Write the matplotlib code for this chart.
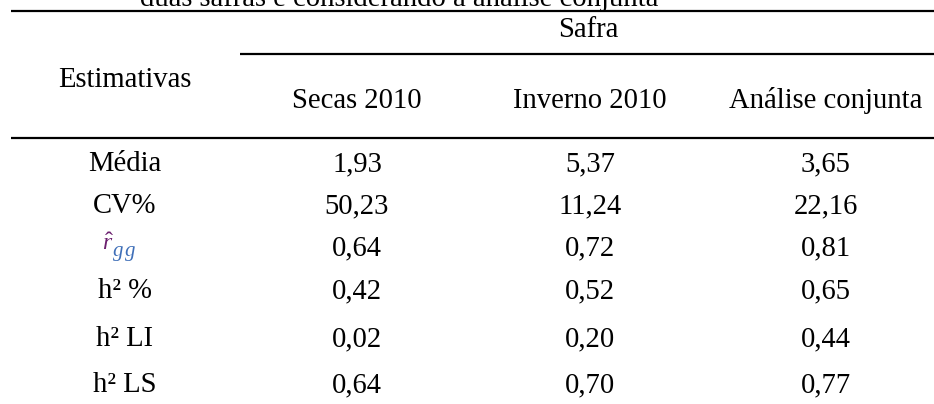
#!/usr/bin/env python3

import matplotlib.pyplot as plt

# Dados da tabela
estimativas = ['Média', 'CV%', 'r_gg', 'h² %', 'h² LI', 'h² LS']
safras = ['Secas 2010', 'Inverno 2010', 'Análise conjunta']
secas_2010 = ['1,93', '50,23', '0,64', '0,42', '0,02', '0,64']
inverno_2010 = ['5,37', '11,24', '0,72', '0,52', '0,20', '0,70']
analise_conjunta = ['3,65', '22,16', '0,81', '0,65', '0,44', '0,77']
titulo = 'duas safras e considerando a análise conjunta'

plt.rcParams['font.family'] = ['Liberation Serif', 'DejaVu Serif']
plt.rcParams['mathtext.fontset'] = 'custom'
plt.rcParams['mathtext.rm'] = 'Liberation Serif'
plt.rcParams['mathtext.it'] = 'Liberation Serif:italic'

W, H = 934, 404
fs = 20.6

fig = plt.figure(figsize=(W / 100, H / 100), dpi=100)
ax = fig.add_axes([0, 0, 1, 1])
ax.set_xlim(0, W)
ax.set_ylim(H, 0)
ax.axis('off')

# posicoes (pixels)
col_x = [357, 590, 826]
label_x = 125
row_base = [171, 213, 255, 298, 346, 392]

# titulo cortado no topo
ax.text(140, 6, titulo, fontsize=fs, ha='left', va='baseline')

# linhas
ax.plot([11, W], [11, 11], color='black', lw=1.6, solid_capstyle='butt')
ax.plot([240, W], [54, 54], color='black', lw=1.6, solid_capstyle='butt')
ax.plot([11, W], [138, 138], color='black', lw=1.6, solid_capstyle='butt')

# cabecalho
ax.text(588, 37, 'Safra', fontsize=fs, ha='center', va='baseline')
ax.text(label_x, 87, 'Estimativas', fontsize=fs, ha='center', va='baseline')
for x, nome in zip(col_x, safras):
    ax.text(x, 108, nome, fontsize=fs, ha='center', va='baseline')

# corpo
colunas = [secas_2010, inverno_2010, analise_conjunta]
for i, est in enumerate(estimativas):
    y = row_base[i]
    if est == 'r_gg':
        # simbolo da equacao (acuracia) que aparece como imagem no original
        ax.text(108, y - 5, '$\\hat{r}$', fontsize=17, ha='center', va='baseline',
                color='#6b1f6e', fontweight='bold')
        ax.text(124, y + 1, '$g\\,g$', fontsize=15, ha='center', va='baseline',
                color='#3f6fb8')
    else:
        ax.text(label_x, y, est, fontsize=fs, ha='center', va='baseline')
    for x, col in zip(col_x, colunas):
        ax.text(x, y, col[i], fontsize=fs, ha='center', va='baseline')

fig.savefig('out.png', dpi=100, facecolor='white')
